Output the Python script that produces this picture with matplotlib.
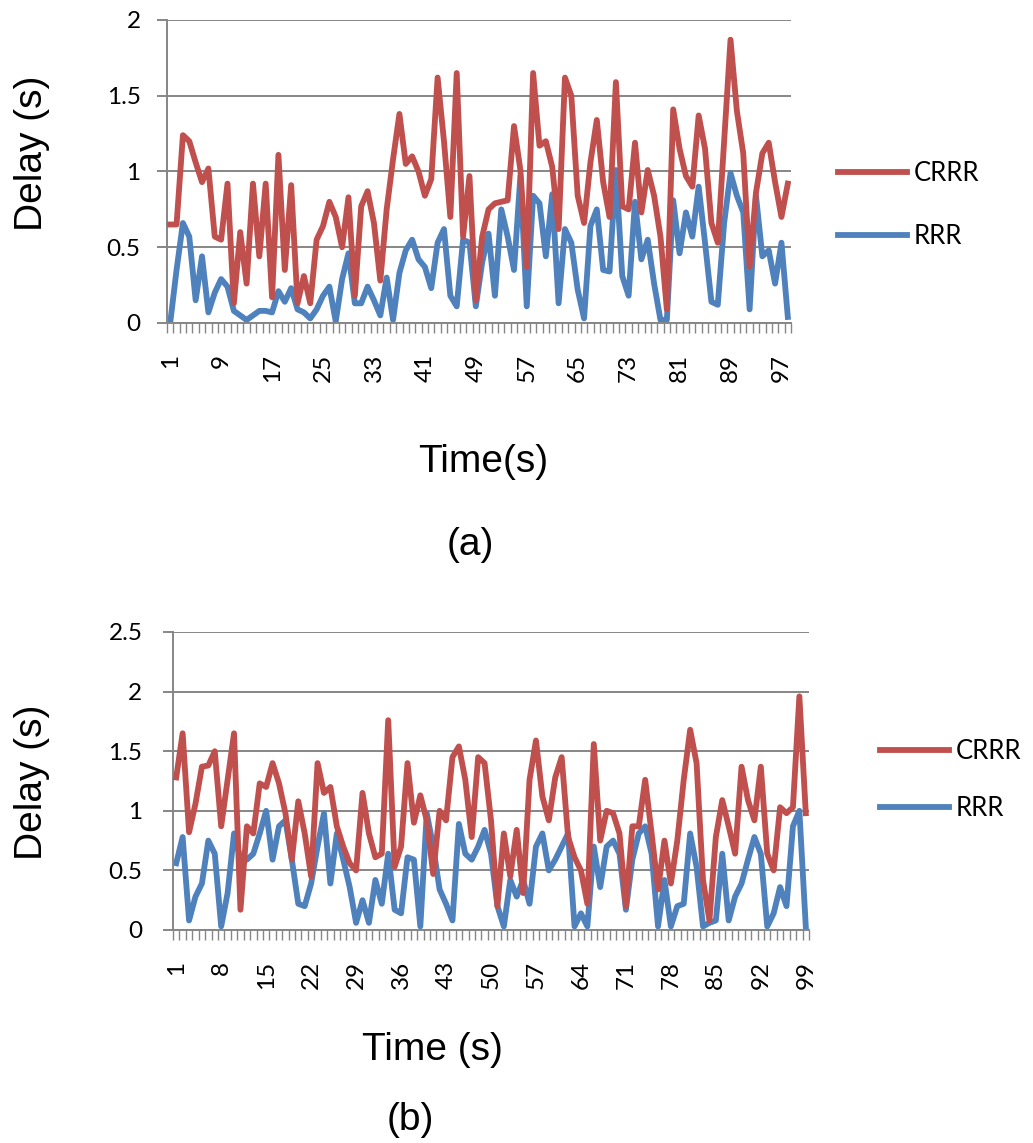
import matplotlib
matplotlib.use("Agg")
import matplotlib.pyplot as plt
import numpy as np

# (a) delay per second, 98 samples
crrr_a = [0.65, 0.65, 1.24, 1.2, 1.06, 0.93, 1.02, 0.57, 0.55, 0.92,
          0.13, 0.6, 0.26, 0.92, 0.44, 0.92, 0.17, 1.11, 0.35, 0.91,
          0.13, 0.31, 0.13, 0.55, 0.64, 0.8, 0.7, 0.5, 0.83, 0.18,
          0.77, 0.87, 0.66, 0.28, 0.75, 1.08, 1.38, 1.05, 1.1, 1.0,
          0.84, 0.95, 1.62, 1.2, 0.7, 1.65, 0.57, 0.97, 0.15, 0.57,
          0.75, 0.79, 0.8, 0.81, 1.3, 1.01, 0.37, 1.65, 1.17, 1.2,
          1.03, 0.62, 1.62, 1.5, 0.84, 0.66, 1.06, 1.34, 0.93, 0.7,
          1.59, 0.77, 0.75, 1.19, 0.73, 1.01, 0.84, 0.57, 0.09, 1.41,
          1.15, 0.97, 0.9, 1.37, 1.15, 0.66, 0.53, 1.2, 1.87, 1.4,
          1.12, 0.37, 0.86, 1.12, 1.19, 0.93, 0.7, 0.92]
rrr_a = [0.0, 0.35, 0.66, 0.57, 0.15, 0.44, 0.07, 0.2, 0.29, 0.24,
         0.08, 0.05, 0.02, 0.05, 0.08, 0.08, 0.07, 0.21, 0.14, 0.23,
         0.09, 0.07, 0.03, 0.09, 0.18, 0.24, 0.01, 0.29, 0.46, 0.13,
         0.13, 0.24, 0.15, 0.05, 0.3, 0.02, 0.33, 0.48, 0.55, 0.42,
         0.37, 0.23, 0.53, 0.62, 0.18, 0.11, 0.55, 0.53, 0.11, 0.4,
         0.59, 0.18, 0.75, 0.57, 0.35, 0.97, 0.11, 0.84, 0.79, 0.44,
         0.85, 0.13, 0.62, 0.53, 0.22, 0.03, 0.64, 0.75, 0.35, 0.34,
         1.01, 0.31, 0.18, 0.8, 0.42, 0.55, 0.26, 0.02, 0.02, 0.81,
         0.46, 0.73, 0.57, 0.9, 0.53, 0.14, 0.12, 0.66, 0.99, 0.84,
         0.73, 0.09, 0.84, 0.44, 0.48, 0.26, 0.53, 0.04]

# (b) delay per second, 99 samples
crrr_b = [1.28, 1.65, 0.82, 1.06, 1.37, 1.38, 1.5, 0.87, 1.26, 1.65,
          0.17, 0.87, 0.81, 1.23, 1.2, 1.4, 1.23, 0.98, 0.59, 1.08,
          0.81, 0.45, 1.4, 1.15, 1.2, 0.87, 0.7, 0.56, 0.5, 1.15,
          0.81, 0.61, 0.64, 1.76, 0.53, 0.7, 1.4, 0.9, 1.13, 0.92,
          0.47, 1.0, 0.92, 1.45, 1.54, 1.26, 0.78, 1.45, 1.4, 0.92,
          0.2, 0.81, 0.45, 0.84, 0.31, 1.26, 1.59, 1.12, 0.92, 1.28,
          1.45, 0.78, 0.61, 0.5, 0.22, 1.56, 0.75, 1.0, 0.98, 0.81,
          0.2, 0.87, 0.87, 1.26, 0.81, 0.34, 0.75, 0.39, 0.75, 1.26,
          1.68, 1.4, 0.42, 0.08, 0.78, 1.09, 0.87, 0.64, 1.37, 1.09,
          0.92, 1.37, 0.64, 0.5, 1.03, 0.98, 1.03, 1.96, 0.98]
rrr_b = [0.56, 0.78, 0.08, 0.28, 0.39, 0.75, 0.64, 0.03, 0.31, 0.81,
         0.6, 0.59, 0.64, 0.81, 1.0, 0.59, 0.87, 0.92, 0.59, 0.22,
         0.2, 0.39, 0.7, 0.98, 0.39, 0.81, 0.59, 0.36, 0.06, 0.25,
         0.06, 0.42, 0.22, 0.64, 0.17, 0.14, 0.61, 0.59, 0.03, 0.98,
         0.7, 0.34, 0.22, 0.08, 0.89, 0.64, 0.59, 0.7, 0.84, 0.64,
         0.2, 0.03, 0.42, 0.28, 0.42, 0.22, 0.7, 0.81, 0.5, 0.59,
         0.7, 0.81, 0.03, 0.14, 0.03, 0.7, 0.36, 0.7, 0.75, 0.64,
         0.17, 0.59, 0.81, 0.87, 0.64, 0.03, 0.42, 0.03, 0.2, 0.22,
         0.81, 0.53, 0.03, 0.06, 0.08, 0.64, 0.08, 0.28, 0.39, 0.59,
         0.78, 0.64, 0.03, 0.14, 0.36, 0.2, 0.87, 1.0, 0.03]

series_names = ["CRRR", "RRR"]
yticks_a = [0, 0.5, 1, 1.5, 2]
yticks_b = [0, 0.5, 1, 1.5, 2, 2.5]

RED = "#C0504D"
BLUE = "#4F81BD"
GRID = "#868686"
W, H = 1033, 1143

fig = plt.figure(figsize=(W / 100, H / 100), dpi=100)


def excel_axes(rect, crrr, rrr, yticks, label_step, legend_xy, spacing, ypad):
    ax = fig.add_axes(rect)
    n = len(crrr)
    x = np.arange(1, n + 1)
    l1, = ax.plot(x, crrr, color=RED, lw=4.2, solid_joinstyle="round", zorder=3)
    l2, = ax.plot(x, rrr, color=BLUE, lw=4.2, solid_joinstyle="round", zorder=2)
    ax.set_xlim(0.5, n + 0.5)
    ax.set_ylim(yticks[0], yticks[-1])
    ax.set_yticks(yticks)
    ax.set_yticklabels([f"{v:g}" for v in yticks], family="Lato", fontsize=17.5)
    ax.yaxis.grid(True, color=GRID, lw=1.4)
    ax.set_axisbelow(True)
    for s in ["top", "right"]:
        ax.spines[s].set_visible(False)
    for s in ["left", "bottom"]:
        ax.spines[s].set_color(GRID)
        ax.spines[s].set_linewidth(1.4)
    ax.tick_params(axis="y", direction="out", length=7, width=1.4, color=GRID, pad=ypad)
    # category boundaries get the little tick marks, labels every few points
    ax.set_xticks(np.arange(0.5, n + 1, 1.0), minor=True)
    labs = x[::label_step]
    ax.set_xticks(labs)
    ax.set_xticklabels([str(v) for v in labs], rotation=90, family="Lato", fontsize=17.5)
    ax.tick_params(axis="x", which="major", length=0, pad=22)
    ax.tick_params(axis="x", which="minor", length=7, width=1.0, color=GRID)
    fig.legend([l1, l2], series_names, loc="center left",
               bbox_to_anchor=(legend_xy[0] / W, 1 - legend_xy[1] / H),
               frameon=False, borderpad=0, borderaxespad=0,
               handlelength=2.7, handletextpad=0.25,
               labelspacing=spacing, prop={"family": "Lato", "size": 18.5})
    return ax


excel_axes([167 / W, 1 - 323 / H, 624 / W, 303 / H], crrr_a, rrr_a,
           yticks_a, 8, (838, 205), 1.45, 12)
excel_axes([173 / W, 1 - 930 / H, 636 / W, 298 / H], crrr_b, rrr_b,
           yticks_b, 7, (880, 780), 1.25, 15)

big = dict(family="Liberation Sans", fontsize=28, ha="center", va="center")
fig.text(32 / W, 1 - 153 / H, "Delay (s)", rotation=90, **big)
fig.text(483 / W, 1 - 462 / H, "Time(s)", **big)
fig.text(470 / W, 1 - 545 / H, "(a)", **big)
fig.text(32 / W, 1 - 782 / H, "Delay (s)", rotation=90, **big)
fig.text(432 / W, 1 - 1050 / H, "Time (s)", **big)
fig.text(410 / W, 1 - 1120 / H, "(b)", **big)

fig.savefig("out.png", dpi=100)
